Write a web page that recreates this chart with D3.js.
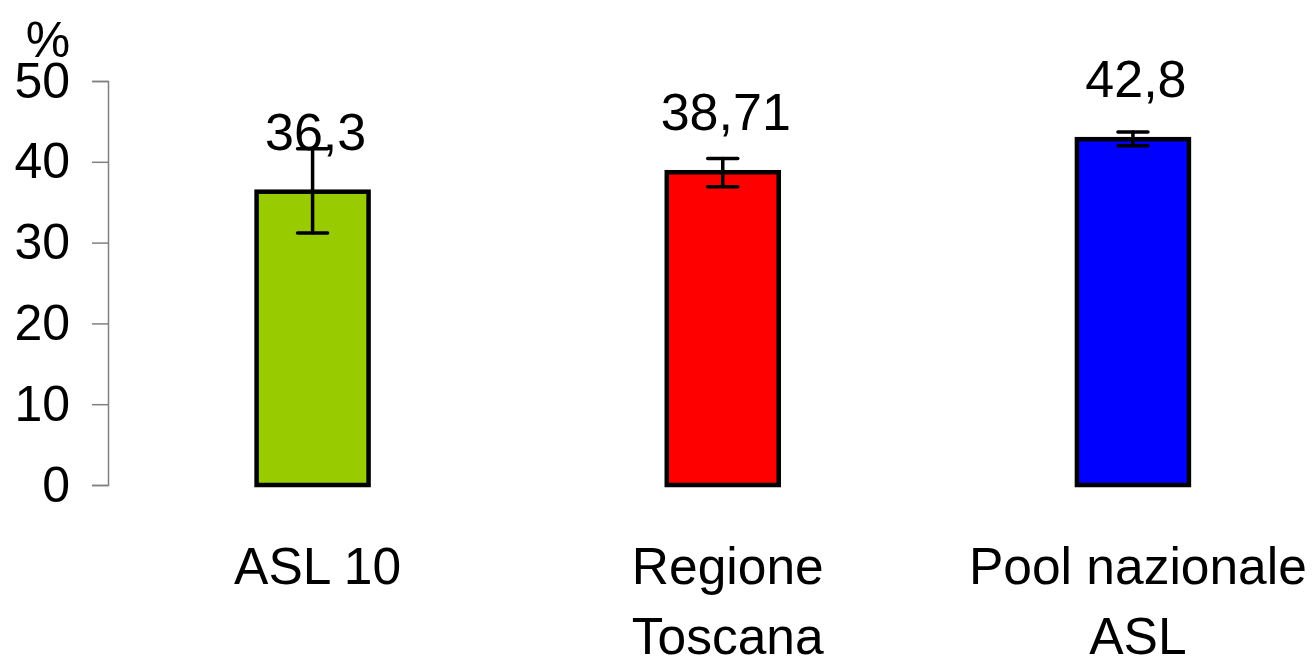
<!DOCTYPE html>
<html>
<head>
<meta charset="utf-8">
<script src="https://cdn.jsdelivr.net/npm/d3@7"></script>
<style>
  body { margin: 0; background: #fff; }
  text { font-family: "Liberation Sans", Arial, sans-serif; fill: #000; }
</style>
</head>
<body>
<div id="chart"></div>
<script>
var categories = ["ASL 10", "Regione|Toscana", "Pool nazionale|ASL"];
var values = [36.3, 38.71, 42.8];
var labels = ["36,3", "38,71", "42,8"];
var errLow = [31.2, 36.9, 42.0];
var errHigh = [41.6, 40.4, 43.7];
var colors = ["#99cc00", "#ff0000", "#0000ff"];
var yTicks = [0, 10, 20, 30, 40, 50];

var width = 1315, height = 661;

var svg = d3.select("#chart").append("svg")
    .attr("width", width)
    .attr("height", height);

var y = d3.scaleLinear().domain([0, 50]).range([485, 81]);

var x = d3.scaleBand()
    .domain(categories)
    .range([107.5, 1338])
    .paddingInner(0.727)
    .paddingOuter(0.3635);

// y axis
var yAxis = svg.append("g")
    .attr("transform", "translate(108,0)")
    .call(d3.axisLeft(y).tickValues(yTicks).tickSize(16).tickPadding(22));
yAxis.select(".domain").attr("stroke", "#808080").attr("stroke-width", 1.5);
yAxis.selectAll(".tick line").attr("stroke", "#808080").attr("stroke-width", 1.5);
yAxis.selectAll(".tick text")
    .attr("font-size", 50)
    .attr("font-family", "Liberation Sans, Arial, sans-serif")
    .attr("fill", "#000");

svg.append("text")
    .attr("x", 48)
    .attr("y", 57)
    .attr("text-anchor", "middle")
    .attr("font-size", 50)
    .text("%");

// bars
svg.selectAll("rect.bar")
    .data(values)
    .enter().append("rect")
    .attr("class", "bar")
    .attr("x", function(d, i) { return x(categories[i]); })
    .attr("y", function(d) { return y(d); })
    .attr("width", x.bandwidth())
    .attr("height", function(d) { return y(0) - y(d); })
    .attr("fill", function(d, i) { return colors[i]; })
    .attr("stroke", "#000")
    .attr("stroke-width", 4.5);

// error bars
var err = svg.selectAll("g.err")
    .data(values)
    .enter().append("g")
    .attr("class", "err")
    .attr("stroke", "#000")
    .attr("stroke-width", 3.5)
    .attr("stroke-linecap", "round");

err.append("line")
    .attr("x1", function(d, i) { return x(categories[i]) + x.bandwidth() / 2; })
    .attr("x2", function(d, i) { return x(categories[i]) + x.bandwidth() / 2; })
    .attr("y1", function(d, i) { return y(errLow[i]); })
    .attr("y2", function(d, i) { return y(errHigh[i]); });

[errLow, errHigh].forEach(function(arr) {
    err.append("line")
        .attr("x1", function(d, i) { return x(categories[i]) + x.bandwidth() / 2 - 15; })
        .attr("x2", function(d, i) { return x(categories[i]) + x.bandwidth() / 2 + 15; })
        .attr("y1", function(d, i) { return y(arr[i]); })
        .attr("y2", function(d, i) { return y(arr[i]); });
});

// value labels
svg.selectAll("text.val")
    .data(values)
    .enter().append("text")
    .attr("class", "val")
    .attr("x", function(d, i) { return x(categories[i]) + x.bandwidth() / 2 + 3; })
    .attr("y", function(d) { return y(d) - 42; })
    .attr("text-anchor", "middle")
    .attr("font-size", 52)
    .text(function(d, i) { return labels[i]; });

// category labels
var cat = svg.selectAll("text.cat")
    .data(categories)
    .enter().append("text")
    .attr("class", "cat")
    .attr("text-anchor", "middle")
    .attr("font-size", 51.5);

cat.selectAll("tspan")
    .data(function(d) { return d.split("|").map(function(s) { return {line: s, cat: d}; }); })
    .enter().append("tspan")
    .attr("x", function(d) { return x(d.cat) + x.bandwidth() / 2 + 5; })
    .attr("y", function(d, j) { return 584 + j * 70; })
    .text(function(d) { return d.line; });
</script>
</body>
</html>
